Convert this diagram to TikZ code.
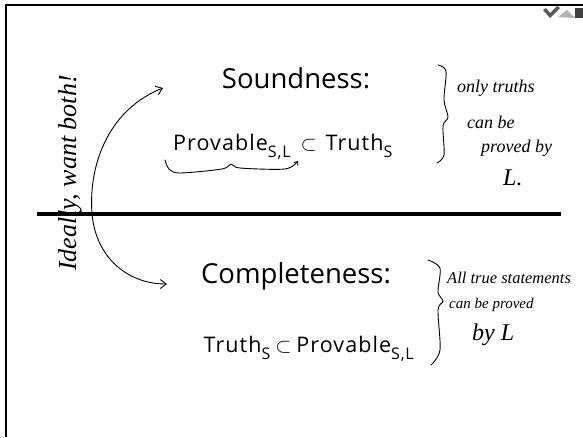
\documentclass[tikz,border=0pt]{standalone}
\usepackage{fontspec}
\setmainfont{Open Sans}
\newfontfamily\handfont{Liberation Serif}
\newfontfamily\formulafont{Open Sans}[LetterSpace=5]
\usetikzlibrary{arrows.meta}
% subscript set larger than usual, as on the slide
\newcommand{\bigsub}[1]{\raisebox{-0.33em}{\fontsize{16}{16}\selectfont #1}}
\tikzset{
  title/.style={font=\fontsize{27.5}{30}\selectfont, inner sep=0pt},
  formula/.style={font=\formulafont\fontsize{21.5}{24}\selectfont, inner sep=0pt},
  note/.style={font=\handfont\itshape\fontsize{18}{20}\selectfont, inner sep=0pt, align=left},
  ink/.style={line width=0.9pt, line cap=round, line join=round},
  frame/.style={line width=2.6pt},
}
\begin{document}
\begin{tikzpicture}[x=1pt,y=-1pt]
\useasboundingbox (0,0) rectangle (583,437);
% slide frame
\draw[frame] (5,5) -- (583,5);
\draw[frame] (6,4) -- (6,437);
% corner icon
\fill[gray!70!black] (543,10) -- (550,18) -- (560,8) -- (557,6) -- (550,13) -- (546,8) -- cycle;
\fill[gray!60] (558,17) -- (567,10) -- (575,18) -- cycle;
\fill[black!75] (575,8) rectangle (583,18);
% divider
\draw[line width=4pt] (37,214) -- (561,214);

% main statements
\node[title] (snd) at (296,78) {Soundness:};
\node[formula, anchor=base west] (sf) at (173,150)
  {Provable\bigsub{S,L}\hspace{10pt}$\subset$\hspace{9pt}Truth\bigsub{S}};
\node[title] (cmp) at (296,276) {Completeness:};
\node[formula, anchor=base east] (cf) at (414,352)
  {Truth\bigsub{S}\hspace{5pt}$\subset$\hspace{5pt}Provable\bigsub{S,L}};

% arrow linking both properties
\coordinate (up) at (163,88);
\coordinate (down) at (167,284);
\draw[ink, {Straight Barb[length=6pt,width=9pt]}-{Straight Barb[length=6pt,width=9pt]}]
  (up) .. controls (112,108) and (88,160) .. (92,214)
       .. controls (96,258) and (128,284) .. (down);
\node[note, rotate=90, font=\handfont\itshape\fontsize{26}{28}\selectfont] (ideal) at (70,173) {Ideally, want both!};

% hand-drawn underbrace
\draw[ink, -{Straight Barb[length=3pt,width=5pt]}] plot[smooth] coordinates
  {(165,160) (169,169) (180,173) (222,169) (231,164) (240,168) (285,169) (298,161)};
% braces
\draw[ink] plot[smooth] coordinates {(438,65) (446,71) (444,100) (448,117) (443,126) (444,155) (437,163)};
\draw[ink] plot[smooth] coordinates {(428,260) (440,268) (438,292) (443,301) (438,310) (440,350) (431,365)};

% margin notes
\node[note, anchor=west] (n1a) at (457,88) {only truths};
\node[note, anchor=west] (n1b) at (467,122) {can be};
\node[note, anchor=west] (n1c) at (481,148) {proved by};
\node[note, anchor=west, font=\handfont\itshape\fontsize{24}{26}\selectfont] (n1d) at (503,178) {L.};
\node[note, anchor=west, font=\handfont\itshape\fontsize{16.5}{18}\selectfont] (n2a) at (447,278) {All true statements};
\node[note, anchor=west, font=\handfont\itshape\fontsize{15}{16}\selectfont] (n2b) at (449,305) {can be proved};
\node[note, anchor=west, font=\handfont\itshape\fontsize{24}{26}\selectfont] (n2c) at (472,335) {by L};
\end{tikzpicture}
\end{document}
